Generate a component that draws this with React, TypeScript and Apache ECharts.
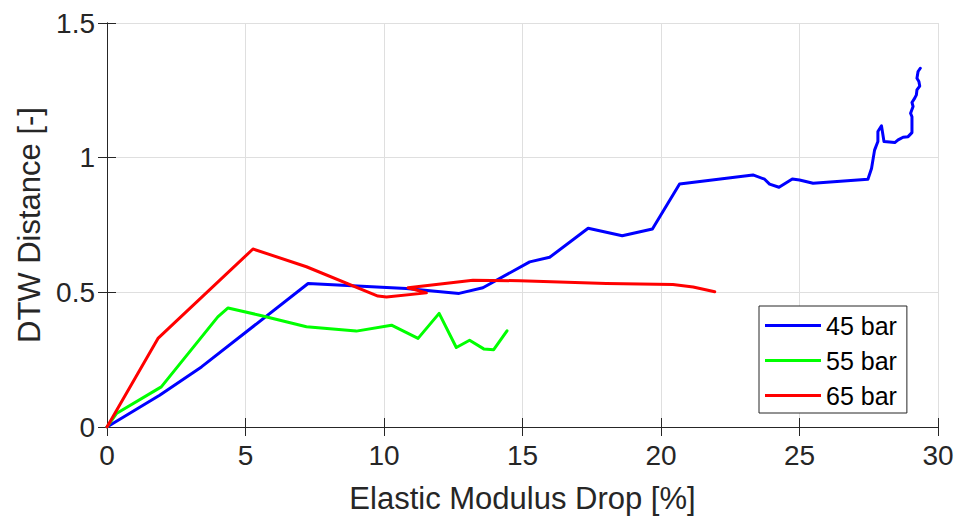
import React, { useEffect, useRef } from "react";
import * as echarts from "echarts";

const xTicks = [0, 5, 10, 15, 20, 25, 30];
const yTicks = [0, 0.5, 1, 1.5];
const seriesNames = ["45 bar", "55 bar", "65 bar"];
const seriesColors = ["#0000ff", "#00ff00", "#ff0000"];

const bar45: number[][] = [
  [0, 0], [1.9, 0.118], [3.41, 0.223], [7.26, 0.533], [10.8, 0.514], [12.71, 0.496],
  [13.57, 0.517], [15.26, 0.613], [15.98, 0.63], [17.37, 0.738], [18.6, 0.71],
  [19.69, 0.735], [20.67, 0.902], [23.32, 0.936], [23.74, 0.92], [23.92, 0.902],
  [24.26, 0.89], [24.74, 0.921], [25.0, 0.917], [25.49, 0.905], [27.47, 0.92],
  [27.6, 0.96], [27.71, 1.028], [27.83, 1.06], [27.83, 1.097], [27.96, 1.118],
  [28.05, 1.06], [28.44, 1.056], [28.56, 1.066], [28.74, 1.076], [28.92, 1.078],
  [29.06, 1.093], [29.06, 1.152], [29.01, 1.165], [29.1, 1.19], [29.06, 1.205],
  [29.16, 1.221], [29.22, 1.233], [29.24, 1.252], [29.34, 1.266], [29.31, 1.283],
  [29.24, 1.295], [29.28, 1.32], [29.36, 1.332],
];

const bar55: number[][] = [
  [0, 0], [0.34, 0.05], [1.96, 0.149], [4.0, 0.409], [4.37, 0.442], [5.51, 0.415],
  [7.2, 0.372], [9.0, 0.356], [10.27, 0.378], [11.23, 0.329], [11.99, 0.422],
  [12.61, 0.295], [13.09, 0.322], [13.6, 0.29], [13.96, 0.287], [14.44, 0.357],
];

const bar65: number[][] = [
  [0, 0], [1.84, 0.329], [5.27, 0.661], [7.2, 0.595], [9.78, 0.486], [10.09, 0.483],
  [11.53, 0.498], [10.87, 0.517], [13.21, 0.545], [14.9, 0.543], [18.03, 0.533],
  [20.43, 0.529], [21.16, 0.52], [21.94, 0.502],
];

const allData = [bar45, bar55, bar65];

const FONT = "'Liberation Sans', Arial, Helvetica, sans-serif";
const DARK = "#262626";

export default function App() {
  const ref = useRef<HTMLDivElement>(null);
  useEffect(() => {
    if (!ref.current) return;
    const chart = echarts.init(ref.current, null, { renderer: "svg" });
    const xMin = xTicks[0];
    const xMax = xTicks[xTicks.length - 1];
    const yMin = yTicks[0];
    const yMax = yTicks[yTicks.length - 1];
    const xInt = xTicks[1] - xTicks[0];
    const yInt = yTicks[1] - yTicks[0];
    const tick = { show: true, inside: true, length: 9, lineStyle: { color: DARK, width: 1 } };
    chart.setOption({
      animation: false,
      backgroundColor: "#ffffff",
      textStyle: { fontFamily: FONT },
      grid: { left: 107, right: 30, top: 23, bottom: 92, containLabel: false },
      legend: {
        data: seriesNames,
        orient: "vertical",
        left: 759,
        top: 306,
        padding: [7, 10, 5, 6],
        itemGap: 10,
        itemWidth: 56,
        itemHeight: 3,
        icon: "rect",
        backgroundColor: "#ffffff",
        borderColor: DARK,
        borderWidth: 1,
        borderRadius: 0,
        textStyle: { fontSize: 25, color: "#000000", fontFamily: FONT },
      },
      xAxis: [
        {
          type: "value",
          min: xMin,
          max: xMax,
          interval: xInt,
          position: "bottom",
          name: "Elastic Modulus Drop [%]",
          nameLocation: "middle",
          nameGap: 56,
          nameTextStyle: { fontSize: 31, color: DARK, fontFamily: FONT },
          axisLine: { show: true, lineStyle: { color: DARK, width: 1 } },
          axisTick: tick,
          axisLabel: { fontSize: 28, color: DARK, margin: 14, fontFamily: FONT },
          splitLine: { show: true, lineStyle: { color: "#dfdfdf", width: 1 } },
        },
        {
          type: "value",
          min: xMin,
          max: xMax,
          interval: xInt,
          position: "top",
          axisLine: { show: true, lineStyle: { color: DARK, width: 1 } },
          axisTick: tick,
          axisLabel: { show: false },
          splitLine: { show: false },
        },
      ],
      yAxis: [
        {
          type: "value",
          min: yMin,
          max: yMax,
          interval: yInt,
          position: "left",
          name: "DTW Distance [-]",
          nameLocation: "middle",
          nameGap: 62,
          nameTextStyle: { fontSize: 31, color: DARK, fontFamily: FONT },
          axisLine: { show: true, lineStyle: { color: DARK, width: 1 } },
          axisTick: tick,
          axisLabel: { fontSize: 28, color: DARK, margin: 12, fontFamily: FONT },
          splitLine: { show: true, lineStyle: { color: "#dfdfdf", width: 1 } },
        },
        {
          type: "value",
          min: yMin,
          max: yMax,
          interval: yInt,
          position: "right",
          axisLine: { show: true, lineStyle: { color: DARK, width: 1 } },
          axisTick: tick,
          axisLabel: { show: false },
          splitLine: { show: false },
        },
      ],
      series: allData.map((d, i) => ({
        name: seriesNames[i],
        type: "line",
        xAxisIndex: 0,
        yAxisIndex: 0,
        data: d,
        showSymbol: false,
        symbol: "none",
        color: seriesColors[i],
        lineStyle: { width: 3, color: seriesColors[i], join: "round", cap: "round" },
        z: 3 + i,
      })),
    });
    return () => chart.dispose();
  }, []);
  return (
    <div
      ref={ref}
      style={{ position: "fixed", left: 0, top: 0, width: 968, height: 519 }}
    />
  );
}
